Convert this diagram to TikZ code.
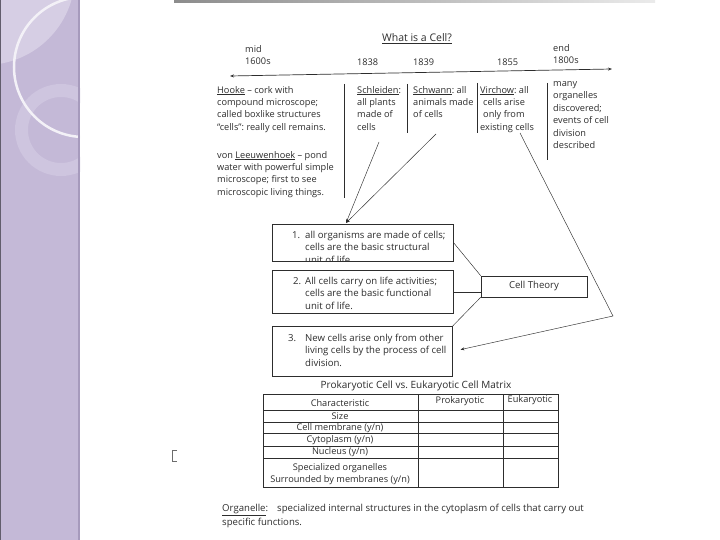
\documentclass[tikz,border=0pt]{standalone}
\usepackage{fontspec}
\setmainfont{Open Sans}
\usepackage{xcolor}
\usetikzlibrary{arrows.meta,positioning,calc}
\definecolor{lilac}{RGB}{196,185,215}
\definecolor{lilacpale}{RGB}{214,206,228}
\definecolor{lilacring}{RGB}{206,197,223}
\definecolor{lilacedge}{RGB}{166,154,188}
\definecolor{ink}{RGB}{45,45,45}
\frenchspacing
\begin{document}
\begin{tikzpicture}[x=1pt,y=-1pt,font=\fontsize{9.2}{12.3}\selectfont,>={Stealth[length=4pt,width=3pt]},
  txt/.style={inner sep=0pt,anchor=north west,align=left,text=ink},
  cbox/.style={draw=ink,line width=0.7pt,inner sep=0pt,anchor=north west},
  link/.style={draw=ink,line width=0.45pt},
  rowtxt/.style={inner sep=0pt,text=ink}]
\useasboundingbox (0,0) rectangle (720,540);
\fill[white] (0,0) rectangle (720,540);
\begin{scope}
\clip (0,0) rectangle (80,540);
\fill[lilac] (0,0) rectangle (80,540);
\fill[lilacpale] (-15,-25) circle[radius=90];
\fill[lilacring,even odd rule] (61,130) circle[radius=46] (61,130) circle[radius=33];
\draw[white!80!lilac,line width=2.5pt] (84,67) circle[radius=70];
\end{scope}
\draw[lilacedge,line width=2pt] (79,0) -- (79,540);
\draw[black!50!lilac,line width=1pt] (0.5,0) -- (0.5,540);
\shade[left color=black!45,right color=black!8] (174,0) rectangle (655,3);
\draw[ink!70,line width=0.6pt] (177,450) -- (172.5,450) -- (172.5,461) -- (177,461);

\node[txt,font=\fontsize{10.5}{12}\selectfont,anchor=center] (title) at (417,39) {\underline{What is a Cell?}};
\coordinate (t0) at (230,76); \coordinate (t1) at (612,69);
\draw[link,<->,line width=0.7pt] (t0) -- (t1);
\node[txt] (y16) at (245,45) {mid\\1600s}; \node[txt] (y38) at (357,59) {1838};
\node[txt] (y39) at (413,59) {1839}; \node[txt] (y55) at (497,59) {1855};
\node[txt] (y18) at (553,44) {end\\1800s};

\node[txt] (hooke) at (217,86) {\underline{Hooke} -- cork with\\compound microscope;\\called boxlike structures\\“cells”: really cell remains.};
\node[txt] (leeu) at (217,151) {von \underline{Leeuwenhoek} -- pond\\water with powerful simple\\microscope; first to see\\microscopic living things.};
\node[txt] (schl) at (357,86) {\underline{Schleiden}:\\all plants\\made of\\cells};
\node[txt] (schw) at (413,86) {\underline{Schwann}: all\\animals made\\of cells};
\node[txt] (virc) at (480,86) {\underline{Virchow}: all\\\hspace*{3pt}cells arise\\\hspace*{3pt}only from\\existing cells};
\node[txt,font=\fontsize{9.2}{12.5}\selectfont] (many) at (553,81) {many\\organelles\\discovered;\\events of cell\\division\\described};
\draw[ink,line width=0.6pt] (344,84) -- (344,198) (407,84) -- (407,133) (477,83) -- (477,133) (547,83) -- (547,160);

\node[cbox,minimum width=181pt,minimum height=37pt] (b1) at (272,224) {};
\node[cbox,minimum width=181pt,minimum height=43pt] (b2) at (272,270) {};
\node[cbox,minimum width=180pt,minimum height=50pt] (b3) at (272,326) {};
\begin{scope}[font=\fontsize{9.6}{12.3}\selectfont]
\begin{scope}
\clip (b1.north west) rectangle (b1.south east);
\node[txt] (n1) at (292,231) {1.};
\node[txt] (p1) at (305,231) {all organisms are made of cells;\\cells are the basic structural\\unit of life};
\end{scope}
\node[txt] (n2) at (293,277) {2.}; \node[txt] (p2) at (305,277) {All cells carry on life activities;\\cells are the basic functional\\unit of life.};
\node[txt] (n3) at (288,334) {3.}; \node[txt] (p3) at (305,334) {New cells arise only from other\\living cells by the process of cell\\division.};
\node[draw=ink,line width=0.6pt,minimum width=106pt,minimum height=21pt,inner sep=0pt,text=ink] (ct) at (534,286.5) {Cell Theory};
\end{scope}
\draw[link] (b1.east) -- (ct.north west);
\draw[link] (b2.east) -- (b2.east -| ct.west);
\draw[link] (b3.north east) -- (ct.south west);

\coordinate (sl) at (379,142); \coordinate (sw) at (436,134); \coordinate (tip) at ($(b1.north west)+(74,-1)$);
\draw[link,->] (sl) -- (tip); \draw[link,->] (sw) -- (tip);
\coordinate (vi) at (520,133); \coordinate (bend) at (613,316);
\draw[link,->,shorten >=8pt] (vi) -- (bend) -- (b3.east);

\node[rowtxt,font=\fontsize{10}{12}\selectfont] (mtitle) at (416,386) {Prokaryotic Cell vs. Eukaryotic Cell Matrix};
\draw[ink,line width=0.6pt] (263,394) rectangle (558,487) (418,394) -- (418,487) (503,394) -- (503,487);
\foreach \y in {410,422,433,446,458} \draw[ink,line width=0.6pt] (263,\y) -- (558,\y);
\node[rowtxt] (hc) at (340,403) {Characteristic}; \node[rowtxt] (hp) at (460,401) {Prokaryotic};
\node[rowtxt] (he) at (530,400) {Eukaryotic};
\foreach \t/\y [count=\i] in {{Size}/416,{Cell membrane (y/n)}/428,{Cytoplasm (y/n)}/440,{Nucleus (y/n)}/452,{Specialized organelles}/468,{Surrounded by membranes (y/n)}/480}
  \node[rowtxt] (r\i) at (340,\y) {\t};

\node[txt,font=\fontsize{9.6}{14}\selectfont] (org) at (222,504) {\makebox[55pt][l]{\underline{Organelle}:}specialized internal structures in the cytoplasm of cells that carry out\\specific functions.};
\end{tikzpicture}
\end{document}
